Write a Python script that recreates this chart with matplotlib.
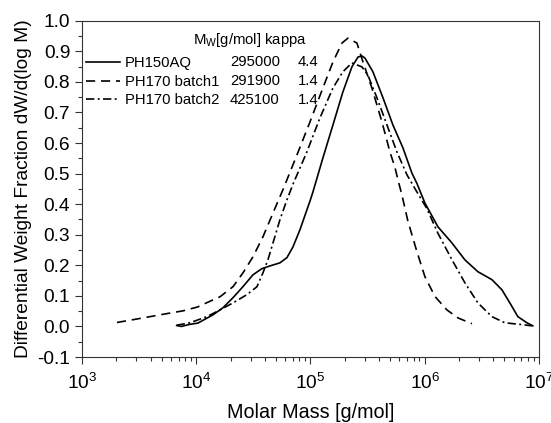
import matplotlib
matplotlib.use("Agg")
import matplotlib.pyplot as plt
import numpy as np
from matplotlib.ticker import MultipleLocator, LogLocator, NullFormatter, FormatStrFormatter

plt.rcParams["font.family"] = ["Liberation Sans", "DejaVu Sans"]
plt.rcParams["mathtext.default"] = "regular"
plt.rcParams["axes.unicode_minus"] = False

# values: log10(molar mass) and dW/d(log M)

# PH150AQ (solid)
logm_a = [3.829, 3.87, 3.945, 4.015, 4.059, 4.147, 4.234, 4.322, 4.409, 4.497,
          4.575, 4.646, 4.733, 4.794, 4.847, 4.908, 4.996, 5.022, 5.109, 5.197,
          5.284, 5.363, 5.416, 5.45, 5.477, 5.547, 5.635, 5.722, 5.81, 5.888,
          5.932, 6.002, 6.116, 6.239, 6.352, 6.466, 6.589, 6.676, 6.746, 6.816,
          6.895, 6.947]
frac_a = [0.003, 0.0, 0.007, 0.011, 0.02, 0.038, 0.061, 0.094, 0.13, 0.169,
          0.189, 0.198, 0.208, 0.225, 0.26, 0.316, 0.41, 0.44, 0.551, 0.659,
          0.767, 0.849, 0.881, 0.885, 0.878, 0.833, 0.748, 0.659, 0.584, 0.502,
          0.468, 0.404, 0.326, 0.273, 0.218, 0.179, 0.153, 0.12, 0.077, 0.032,
          0.012, 0.002]

# PH170 batch1 (dashed)
logm_b = [3.306, 3.446, 3.595, 3.744, 3.884, 4.015, 4.059, 4.208, 4.322, 4.409,
          4.497, 4.584, 4.672, 4.759, 4.882, 4.996, 5.109, 5.197, 5.276, 5.328,
          5.407, 5.46, 5.538, 5.626, 5.696, 5.74, 5.766, 5.801, 5.853, 5.932,
          6.002, 6.09, 6.195, 6.291, 6.414]
frac_b = [0.013, 0.022, 0.032, 0.042, 0.051, 0.064, 0.072, 0.097, 0.13, 0.175,
          0.228, 0.293, 0.371, 0.447, 0.561, 0.669, 0.78, 0.865, 0.927, 0.943,
          0.927, 0.865, 0.78, 0.669, 0.571, 0.52, 0.48, 0.43, 0.345, 0.245,
          0.163, 0.098, 0.054, 0.028, 0.009]

# PH170 batch2 (dash-dot)
logm_c = [3.829, 3.945, 4.094, 4.208, 4.322, 4.444, 4.532, 4.584, 4.628, 4.672,
          4.733, 4.794, 4.847, 4.969, 5.083, 5.197, 5.284, 5.363, 5.451, 5.503,
          5.582, 5.67, 5.757, 5.845, 5.932, 6.02, 6.116, 6.239, 6.352, 6.466,
          6.589, 6.702, 6.851, 6.939]
frac_c = [0.004, 0.012, 0.032, 0.054, 0.077, 0.104, 0.13, 0.175, 0.218, 0.273,
          0.349, 0.414, 0.465, 0.571, 0.682, 0.78, 0.833, 0.862, 0.849, 0.822,
          0.748, 0.659, 0.571, 0.496, 0.44, 0.385, 0.305, 0.218, 0.143, 0.077,
          0.032, 0.012, 0.006, 0.002]

names = ["PH150AQ", "PH170 batch1", "PH170 batch2"]
mw_values = ["295000", "291900", "425100"]
kappa_values = ["4.4", "1.4", "1.4"]

fig = plt.figure(figsize=(5.51, 4.23), dpi=100)
ax = fig.add_axes([0.1488, 0.156, 0.8292, 0.795])

l1, = ax.plot(10 ** np.array(logm_a), frac_a, color="black", lw=1.2, ls="-")
l2, = ax.plot(10 ** np.array(logm_b), frac_b, color="black", lw=1.2, ls=(0, (5.5, 3.5)))
l3, = ax.plot(10 ** np.array(logm_c), frac_c, color="black", lw=1.2, ls=(0, (5, 2, 1.2, 2)))

ax.set_xscale("log")
ax.set_xlim(1e3, 1e7)
ax.set_ylim(-0.1, 1.0)
ax.yaxis.set_major_locator(MultipleLocator(0.1))
ax.yaxis.set_minor_locator(MultipleLocator(0.05))
ax.xaxis.set_major_locator(LogLocator(base=10, numticks=10))
ax.xaxis.set_minor_locator(LogLocator(base=10, subs=range(2, 10), numticks=100))
ax.xaxis.set_minor_formatter(NullFormatter())
ax.yaxis.set_major_formatter(FormatStrFormatter("%.1f"))

ax.tick_params(which="both", direction="out", top=False, right=False,
               labelsize=13.8, color="#333333", width=0.8)
ax.tick_params(which="major", length=5)
ax.tick_params(which="minor", length=3)
ax.tick_params(axis="x", which="major", pad=6.5)
for s in ax.spines.values():
    s.set_color("#333333")
    s.set_linewidth(0.8)

ax.set_xlabel("Molar Mass [g/mol]", fontsize=14.2, labelpad=7)
ax.set_ylabel("Differential Weight Fraction dW/d(log M)", fontsize=13.8, labelpad=4)

ax.legend([l1, l2, l3], names, loc="upper left", bbox_to_anchor=(-0.005, 0.912),
          frameon=False, fontsize=10.7, handlelength=2.3, handletextpad=0.35,
          labelspacing=0.3, borderaxespad=0)

ax.text(0.243, 0.944, "M$_W$[g/mol] kappa", transform=ax.transAxes,
        fontsize=10.7, va="center", ha="left")
row_y = [0.878, 0.820, 0.765]
for y, mw, kp in zip(row_y, mw_values, kappa_values):
    ax.text(0.324, y, mw, transform=ax.transAxes, fontsize=10.7, va="center", ha="left")
    ax.text(0.473, y, kp, transform=ax.transAxes, fontsize=10.7, va="center", ha="left")

fig.savefig("out.png", dpi=100)
